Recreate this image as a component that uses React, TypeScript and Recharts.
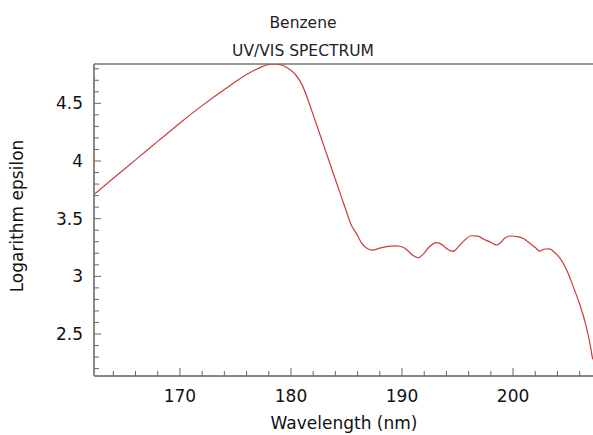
import { Line, LineChart, ReferenceLine, XAxis, YAxis } from 'recharts';

// wavelength (nm) and log(epsilon)
const wavelengths = [
  162.26, 164.0, 166.0, 168.0, 170.0, 172.0, 174.0, 176.0, 177.2, 178.3,
  179.2, 179.8, 180.4, 181.0, 181.5, 182.0, 182.5, 183.0, 183.5, 184.0,
  184.5, 185.0, 185.45, 185.9, 186.35, 186.8, 187.3, 188.1, 188.9, 189.5,
  190.1, 190.55, 191.0, 191.45, 191.9, 192.4, 193.1, 193.6, 194.1, 194.6,
  195.1, 195.6, 196.25, 196.8, 197.4, 198.0, 198.5, 198.8, 199.3, 199.8,
  200.4, 200.9, 201.6, 202.0, 202.4, 202.9, 203.3, 203.8, 204.2, 204.9,
  205.5, 206.0, 206.6, 206.9, 207.17,
];
const logEpsilon = [
  3.71, 3.85, 4.01, 4.17, 4.33, 4.48, 4.62, 4.75, 4.81, 4.841,
  4.83, 4.8, 4.75, 4.66, 4.54, 4.4, 4.26, 4.12, 3.98, 3.84,
  3.7, 3.56, 3.44, 3.37, 3.29, 3.245, 3.228, 3.247, 3.262, 3.265,
  3.252, 3.219, 3.18, 3.161, 3.19, 3.25, 3.292, 3.275, 3.235, 3.216,
  3.26, 3.31, 3.352, 3.348, 3.32, 3.295, 3.272, 3.285, 3.335, 3.35,
  3.345, 3.33, 3.28, 3.25, 3.219, 3.237, 3.238, 3.2, 3.161, 3.04,
  2.89, 2.76, 2.56, 2.43, 2.28,
];

const xTicks = [164, 166, 168, 170, 172, 174, 176, 178, 180, 182, 184, 186, 188, 190, 192, 194, 196, 198, 200, 202, 204, 206];
const xLabels = [170, 180, 190, 200];
const yTicks = [
  2.2, 2.3, 2.4, 2.5, 2.6, 2.7, 2.8, 2.9, 3, 3.1, 3.2, 3.3, 3.4,
  3.5, 3.6, 3.7, 3.8, 3.9, 4, 4.1, 4.2, 4.3, 4.4, 4.5, 4.6, 4.7, 4.8,
];
const yLabels = [2.5, 3, 3.5, 4, 4.5];

const X_MIN = 162.26;
const X_MAX = 207.2;
const Y_MIN = 2.136;
const Y_MAX = 4.841;

const data = wavelengths.map((w, i) => ({ w, v: logEpsilon[i] }));

const FONT = '"DejaVu Sans", Verdana, sans-serif';
const TICK_COLOR = '#666';

function YTick({ x, y, payload }: any) {
  const major = yLabels.includes(payload.value);
  return (
    <g>
      <line x1={x} y1={y} x2={x + (major ? 7 : 5)} y2={y} stroke={TICK_COLOR} />
      {major && (
        <text x={x - 11} y={y} dy={6} textAnchor="end" fontSize={17} fontFamily={FONT} fill="#111">
          {payload.value}
        </text>
      )}
    </g>
  );
}

function XTick({ x, y, payload }: any) {
  const major = xLabels.includes(payload.value);
  return (
    <g>
      <line x1={x} y1={y} x2={x} y2={y - (major ? 8 : 5)} stroke={TICK_COLOR} />
      {major && (
        <text x={x} y={y} dy={26} textAnchor="middle" fontSize={17} fontFamily={FONT} fill="#111">
          {payload.value}
        </text>
      )}
    </g>
  );
}

export default function App() {
  return (
    <div style={{ position: 'absolute', left: 0, top: 0, width: 593, height: 435, background: '#fff' }}>
      <LineChart width={593} height={435} data={data} margin={{ top: 64, right: 0, bottom: 19, left: 34 }}>
        <XAxis
          dataKey="w"
          type="number"
          domain={[X_MIN, X_MAX]}
          allowDataOverflow
          ticks={xTicks}
          interval={0}
          height={40}
          tickSize={0}
          tickMargin={0}
          tickLine={false}
          axisLine={{ stroke: '#888', strokeWidth: 2 }}
          tick={(p: any) => <XTick {...p} />}
        />
        <YAxis
          type="number"
          domain={[Y_MIN, Y_MAX]}
          allowDataOverflow
          ticks={yTicks}
          interval={0}
          width={60}
          tickSize={0}
          tickMargin={0}
          tickLine={false}
          axisLine={{ stroke: '#888', strokeWidth: 2 }}
          tick={(p: any) => <YTick {...p} />}
        />
        <ReferenceLine y={Y_MAX} stroke="#333" strokeWidth={1} />
        <Line
          dataKey="v"
          type="monotone"
          stroke="#cf3a3a"
          strokeWidth={1.2}
          dot={false}
          isAnimationActive={false}
        />
      </LineChart>
      <svg width={593} height={435} style={{ position: 'absolute', left: 0, top: 0, pointerEvents: 'none' }}>
        <text x={303} y={28} textAnchor="middle" fontSize={15.5} fontFamily={FONT} fill="#222">Benzene</text>
        <text x={303} y={56} textAnchor="middle" fontSize={15.5} fontFamily={FONT} fill="#222">UV/VIS SPECTRUM</text>
        <text x={344} y={429} textAnchor="middle" fontSize={17} fontFamily={FONT} fill="#111">Wavelength (nm)</text>
        <text
          x={23}
          y={216}
          textAnchor="middle"
          fontSize={17}
          fontFamily={FONT}
          fill="#111"
          transform="rotate(-90, 23, 216)"
        >
          Logarithm epsilon
        </text>
      </svg>
    </div>
  );
}
